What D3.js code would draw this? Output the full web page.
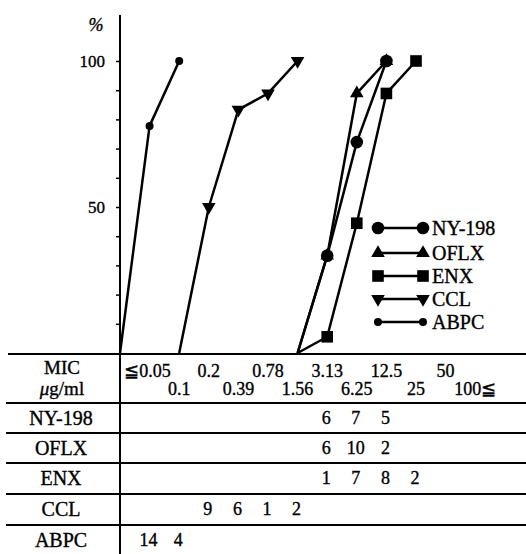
<!DOCTYPE html>
<html>
<head>
<meta charset="utf-8">
<script src="https://cdn.jsdelivr.net/npm/d3@7"></script>
<style>
  body { margin: 0; background: #fff; }
  svg { display: block; font-family: "Liberation Serif", "DejaVu Serif", serif; }
  svg text { stroke: #000; stroke-width: 0.35px; }
</style>
</head>
<body>
<div class="mic"></div>
<script>
// MIC columns and the number of strains inhibited at each one
const mics = ["≦0.05", "0.1", "0.2", "0.39", "0.78", "1.56", "3.13", "6.25", "12.5", "25", "50", "100≦"]
const drugs = ["NY-198", "OFLX", "ENX", "CCL", "ABPC"]
const nyCounts   = [0, 0, 0, 0, 0, 0, 6, 7, 5, 0, 0, 0]
const oflxCounts = [0, 0, 0, 0, 0, 0, 6, 10, 2, 0, 0, 0]
const enxCounts  = [0, 0, 0, 0, 0, 0, 1, 7, 8, 2, 0, 0]
const cclCounts  = [0, 0, 9, 6, 1, 2, 0, 0, 0, 0, 0, 0]
const abpcCounts = [14, 4, 0, 0, 0, 0, 0, 0, 0, 0, 0, 0]
const yTicks = [10, 20, 30, 40, 50, 60, 70, 80, 90, 100]
const yLabels = [50, 100]

const counts = [nyCounts, oflxCounts, enxCounts, cclCounts, abpcCounts]
const symbols = [
    { type: d3.symbolCircle, size: 125, rot: 0 },
    { type: d3.symbolTriangle, size: 80, rot: 0 },
    { type: d3.symbolSquare, size: 135, rot: 0 },
    { type: d3.symbolTriangle, size: 80, rot: 180 },
    { type: d3.symbolCircle, size: 50, rot: 0 }
]

var width = 526
var height = 554
var axisX = 120
var baseY = 354
var rowTops = [403, 433, 463, 494, 525]

var svg = d3.select('.mic').append('svg')
    .attr('width', width)
    .attr('height', height)

var xScale = d3.scaleLinear().domain([-1, 11]).range([axisX, axisX + 29.6 * 12])
var yScale = d3.scaleLinear().domain([0, 100]).range([353, 61])

// cumulative % curves, starting at 0 one column before the first count
let series = counts.map((c, k) => {
    let total = d3.sum(c)
    let first = c.findIndex((v) => v > 0)
    let last = c.length - 1 - [...c].reverse().findIndex((v) => v > 0)
    let pts = [[first - 1, 0, false]]
    let run = 0
    for (let i = first; i <= last; i++) {
        run += c[i]
        pts.push([i, run / total * 100, true])
    }
    return { name: drugs[k], pts: pts, sym: symbols[k] }
})

// y axis
svg.append('line')
    .attr('x1', axisX).attr('x2', axisX)
    .attr('y1', 15).attr('y2', height)
    .attr('stroke', '#000').attr('stroke-width', 2)

const yAxis = d3.axisLeft(yScale)
    .tickValues(yTicks)
    .tickSize(4)
    .tickPadding(11)
    .tickFormat((d) => yLabels.includes(d) ? d : '')
svg.append('g')
    .attr('transform', `translate(${axisX}, 0)`)
    .call(yAxis)
    .call((g) => g.select('.domain').remove())
    .call((g) => g.selectAll('line').attr('stroke-width', 1.5))
    .call((g) => g.selectAll('text')
        .style('font-family', '"Liberation Serif", serif')
        .style('font-size', '17px')
        .attr('fill', '#000'))

svg.append('text')
    .attr('x', 96).attr('y', 31)
    .attr('text-anchor', 'middle')
    .style('font-style', 'italic')
    .style('font-size', '18px')
    .text('%')

// lines and markers
let line = d3.line()
    .x((d) => xScale(d[0]))
    .y((d) => yScale(d[1]))

series.forEach((s) => {
    svg.append('path')
        .attr('d', line(s.pts))
        .attr('fill', 'none')
        .attr('stroke', '#000')
        .attr('stroke-width', 2.5)
        .attr('stroke-linejoin', 'round')
})

// NY-198 markers drawn last so they sit on top
series.slice().reverse().forEach((s) => {
    svg.append('g').selectAll('path')
        .data(s.pts.filter((d) => d[2]))
        .enter()
        .append('path')
        .attr('d', d3.symbol().type(s.sym.type).size(s.sym.size))
        .attr('transform', (d) => `translate(${xScale(d[0])}, ${yScale(d[1])}) rotate(${s.sym.rot})`)
        .attr('fill', '#000')
})

// legend
var legY = [228, 253, 276, 299, 322]
series.forEach((s, k) => {
    let g = svg.append('g').attr('transform', `translate(0, ${legY[k]})`)
    g.append('line')
        .attr('x1', 378).attr('x2', 423)
        .attr('stroke', '#000').attr('stroke-width', 2.5)
    ;[378, 423].forEach((x) => {
        g.append('path')
            .attr('d', d3.symbol().type(s.sym.type).size(s.sym.size))
            .attr('transform', `translate(${x}, 0) rotate(${s.sym.rot})`)
            .attr('fill', '#000')
    })
    g.append('text')
        .attr('x', 432).attr('y', 7)
        .style('font-size', '20px')
        .text(s.name)
})

// table
svg.append('line')
    .attr('x1', 8).attr('x2', width)
    .attr('y1', baseY).attr('y2', baseY)
    .attr('stroke', '#000').attr('stroke-width', 2)

rowTops.forEach((y) => {
    svg.append('line')
        .attr('x1', 6).attr('x2', width)
        .attr('y1', y).attr('y2', y)
        .attr('stroke', '#000').attr('stroke-width', 2)
})

svg.append('text').attr('x', 62).attr('y', 374)
    .attr('text-anchor', 'middle').style('font-size', '19px').text('MIC')
let unit = svg.append('text').attr('x', 62).attr('y', 395)
    .attr('text-anchor', 'middle').style('font-size', '19px')
unit.append('tspan').style('font-style', 'italic').text('μ')
unit.append('tspan').text('g/ml')

svg.append('g').selectAll('text')
    .data(mics)
    .enter()
    .append('text')
    .attr('x', (d, i) => xScale(i) - (i == 0 ? 2 : 0))
    .attr('y', (d, i) => i % 2 == 0 ? 377 : 395)
    .attr('text-anchor', 'middle')
    .style('font-size', '18px')
    .text((d) => d)

drugs.forEach((name, k) => {
    let cy = rowTops[k] + 15 + 7
    svg.append('text')
        .attr('x', 61).attr('y', cy)
        .attr('text-anchor', 'middle')
        .style('font-size', '20px')
        .text(name)
    svg.append('g').selectAll('text')
        .data(counts[k].map((v, i) => [i, v]).filter((d) => d[1] > 0))
        .enter()
        .append('text')
        .attr('x', (d) => xScale(d[0]) - 1)
        .attr('y', cy - 1)
        .attr('text-anchor', 'middle')
        .style('font-size', '18px')
        .text((d) => d[1])
})
</script>
</body>
</html>
